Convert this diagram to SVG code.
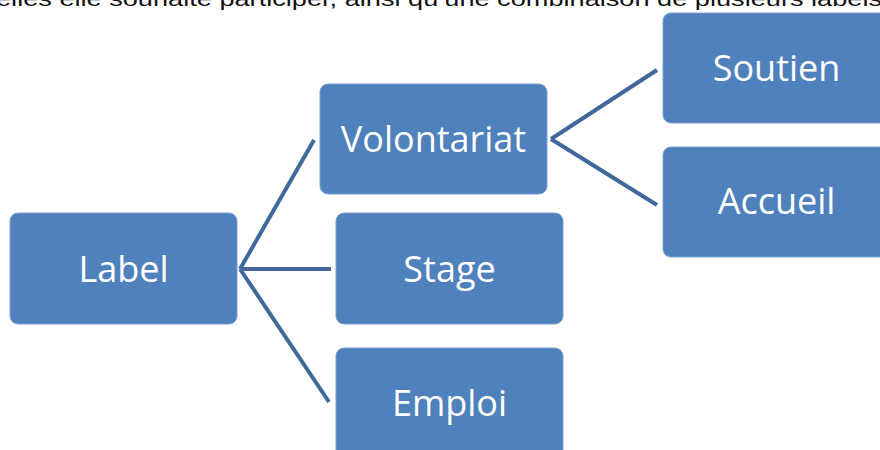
<svg xmlns="http://www.w3.org/2000/svg" width="880" height="450" viewBox="0 0 880 450">
<style>
.box{fill:#4F81BD;stroke:#7FA0CF;stroke-width:1}
.lbl{font-family:"Open Sans","Noto Sans",sans-serif;font-size:36px;fill:#FFFFFF;text-anchor:middle}
.con{stroke:#41689A;stroke-width:4;fill:none}
.top{font-family:"Liberation Sans",Arial,sans-serif;font-size:21px;fill:#111111}
</style>
<rect width="880" height="450" fill="#FFFFFF"/>
<text class="top" x="-4" y="6" textLength="886" lengthAdjust="spacingAndGlyphs">elles elle souhaite participer, ainsi qu’une combinaison de plusieurs labels</text>
<g id="connectors">
<line class="con" x1="240" y1="269" x2="314" y2="140"/>
<line class="con" x1="240" y1="269" x2="331" y2="269"/>
<line class="con" x1="240" y1="269" x2="329" y2="402"/>
<line class="con" x1="551" y1="139" x2="657" y2="70"/>
<line class="con" x1="551" y1="139" x2="657" y2="205"/>
</g>
<g id="node-label">
<rect class="box" x="10" y="213" width="227" height="111" rx="8"/>
<text class="lbl" x="123.5" y="282">Label</text>
</g>
<g id="node-volontariat">
<rect class="box" x="320" y="84" width="227" height="110" rx="8"/>
<text class="lbl" x="433.5" y="152">Volontariat</text>
</g>
<g id="node-stage">
<rect class="box" x="336" y="213" width="227" height="111" rx="8"/>
<text class="lbl" x="449.5" y="282">Stage</text>
</g>
<g id="node-emploi">
<rect class="box" x="336" y="348" width="227" height="111" rx="8"/>
<text class="lbl" x="449.5" y="416">Emploi</text>
</g>
<g id="node-soutien">
<rect class="box" x="663" y="13" width="227" height="110" rx="8"/>
<text class="lbl" x="776.5" y="81">Soutien</text>
</g>
<g id="node-accueil">
<rect class="box" x="663" y="147" width="227" height="110" rx="8"/>
<text class="lbl" x="776.5" y="214">Accueil</text>
</g>
</svg>
